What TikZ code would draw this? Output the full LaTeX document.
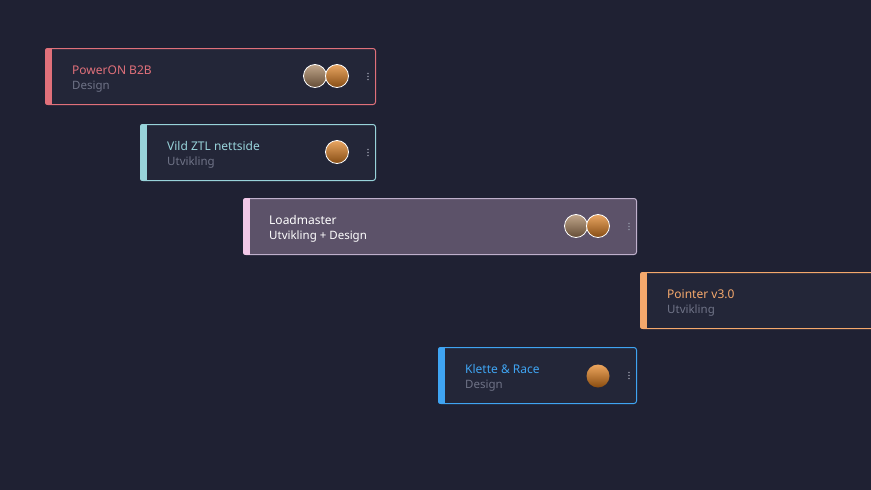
\documentclass[tikz,border=0pt]{standalone}
\usepackage{fontspec}
\setmainfont{Noto Sans}
\usetikzlibrary{positioning}
\definecolor{bg}{HTML}{1F2133}
\definecolor{cardbg}{HTML}{232638}
\definecolor{redc}{HTML}{E0707A}
\definecolor{tealc}{HTML}{98D3DA}
\definecolor{pinkc}{HTML}{F2C8E8}
\definecolor{loadbg}{HTML}{5C5269}
\definecolor{loadedge}{HTML}{BFB0CC}
\definecolor{orangec}{HTML}{F4A86C}
\definecolor{bluec}{HTML}{3FA4F2}
\definecolor{subc}{HTML}{6F7387}
\tikzset{
  card/.style={draw=#1, line width=1pt, fill=cardbg, rounded corners=2.5pt,
    minimum height=56pt, anchor=north west, inner sep=0pt},
  cardtitle/.style={anchor=base west, inner sep=0pt, font=\fontsize{12}{14}\selectfont\bfseries},
  cardsub/.style={anchor=base west, inner sep=0pt, font=\fontsize{11.5}{13}\selectfont, text=subc},
  avatar/.style={circle, draw=white!70, line width=0.8pt, minimum size=23pt, inner sep=0pt,
    top color=#1!70!white, bottom color=#1!60!black},
  dots/.style={fill=subc!80, circle, inner sep=0pt, minimum size=1.6pt},
}
\newcommand{\cardbar}[2]{% bar on the left edge
  \begin{scope}
    \clip[rounded corners=2.5pt] (#1.north west) rectangle (#1.south east);
    \fill[#2] (#1.north west) rectangle ([xshift=7pt]#1.south west);
  \end{scope}}
\newcommand{\carddots}[2]{% three dots
  \foreach \d in {-3,0,3}
    \node[dots] at ([xshift=#2, yshift=\d pt]#1) {};}
\begin{document}
\begin{tikzpicture}[x=1pt,y=-1pt]
\fill[bg] (0,0) rectangle (871,490);
\useasboundingbox (0,0) rectangle (871,490);

% PowerON B2B
\node[card=redc, minimum width=330pt] (power) at (45,48) {};
\cardbar{power}{redc}
\node[cardtitle, text=redc] (powerT) at ([xshift=27pt, yshift=2pt]power.west) {PowerON B2B};
\node[cardsub] (powerS) at ([xshift=27pt, yshift=-13pt]power.west) {Design};
\node[avatar=brown!60!gray] (powerA1) at (315,76) {};
\node[avatar=orange!50!brown] (powerA2) at (337,76) {};
\carddots{power.east}{-8pt}

% Vild ZTL nettside
\node[card=tealc, minimum width=235pt] (vild) at (140,124) {};
\cardbar{vild}{tealc}
\node[cardtitle, text=tealc] (vildT) at ([xshift=27pt, yshift=2pt]vild.west) {Vild ZTL nettside};
\node[cardsub] (vildS) at ([xshift=27pt, yshift=-13pt]vild.west) {Utvikling};
\node[avatar=orange!50!brown] (vildA) at (337,152) {};
\carddots{vild.east}{-8pt}

% Loadmaster
\node[card=loadedge, fill=loadbg, minimum width=393pt] (load) at (243,198) {};
\cardbar{load}{pinkc}
\node[cardtitle, text=white!90, font=\fontsize{12}{14}\selectfont] (loadT) at ([xshift=26pt, yshift=2pt]load.west) {Loadmaster};
\node[cardsub, text=white!90] (loadS) at ([xshift=26pt, yshift=-13pt]load.west) {Utvikling + Design};
\node[avatar=brown!60!gray] (loadA1) at (576,226) {};
\node[avatar=orange!50!brown] (loadA2) at (598,226) {};
\carddots{load.east}{-8pt}

% Pointer v3.0
\node[card=orangec, minimum width=240pt] (pointer) at (640,272) {};
\cardbar{pointer}{orangec}
\node[cardtitle, text=orangec] (pointerT) at ([xshift=27pt, yshift=2pt]pointer.west) {Pointer v3.0};
\node[cardsub] (pointerS) at ([xshift=27pt, yshift=-13pt]pointer.west) {Utvikling};

% Klette & Race
\node[card=bluec, minimum width=198pt] (klette) at (438,347) {};
\cardbar{klette}{bluec}
\node[cardtitle, text=bluec] (kletteT) at ([xshift=27pt, yshift=2pt]klette.west) {Klette \& Race};
\node[cardsub] (kletteS) at ([xshift=27pt, yshift=-13pt]klette.west) {Design};
\node[avatar=orange!60!brown, draw=none] (kletteA) at (598,376) {};
\carddots{klette.east}{-8pt}
\end{tikzpicture}
\end{document}
